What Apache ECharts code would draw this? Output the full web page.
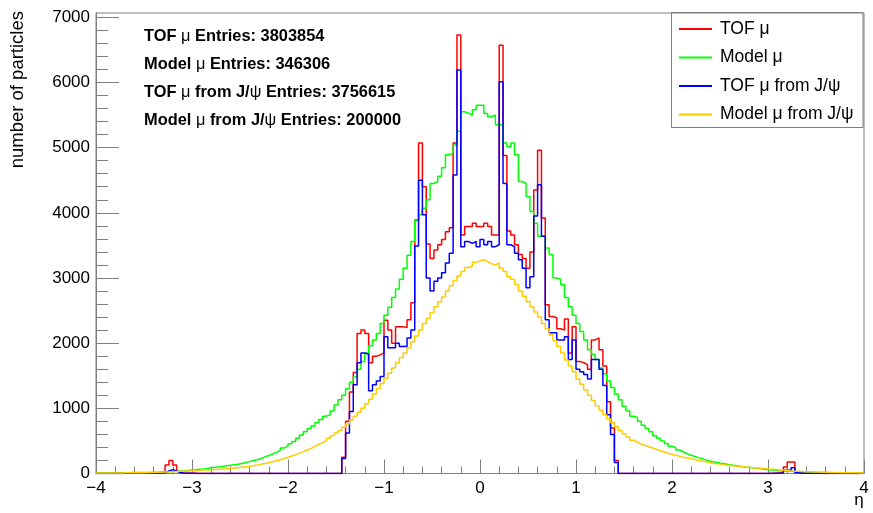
<!DOCTYPE html>
<html>
<head>
<meta charset="utf-8">
<script src="https://cdn.jsdelivr.net/npm/echarts@6/dist/echarts.min.js"></script>
<style>
  html, body { margin: 0; padding: 0; background: #fff; }
  #chart { width: 873px; height: 513px; }
</style>
</head>
<body>
<div id="chart"></div>
<script>
// binning of the eta histograms
const etaMin = -4
const etaMax = 4
const binWidth = 0.04

const xTicks = [-4, -3, -2, -1, 0, 1, 2, 3, 4]
const yTicks = [0, 1000, 2000, 3000, 4000, 5000, 6000, 7000]
const yMax = 7066

const seriesNames = ['TOF \u03bc', 'Model \u03bc', 'TOF \u03bc from J/\u03c8', 'Model \u03bc from J/\u03c8']
const seriesColors = ['#ff0000', '#00ff00', '#0000ff', '#ffcc00']
const entries = [3803854, 346306, 3756615, 200000]

// bin contents, 200 bins each
const tofMu = [
  0,0,0,0,0,2,0,3,4,3,
  5,4,6,5,7,8,10,25,130,200,
  130,30,8,5,3,2,0,0,0,0,
  0,0,0,0,0,0,0,0,0,0,
  0,0,0,0,0,0,0,0,0,0,
  0,0,0,0,0,0,0,0,0,0,
  0,0,0,0,250,800,1250,1550,2150,2200,
  2150,1700,1800,1820,1850,2350,2200,2000,2250,2250,
  2240,2360,2620,3890,5070,4400,3520,3300,3430,3510,
  3590,3710,3770,5070,6730,3660,3790,3790,3840,3790,
  3790,3840,3790,3660,3660,6570,4880,3720,3660,3510,
  3360,3300,3150,3400,4350,4960,3920,2590,2410,2390,
  2220,2200,2370,1850,2250,1720,1700,1670,1600,2050,
  2080,1900,1650,1100,700,200,0,0,0,0,
  0,0,0,0,0,0,0,0,0,0,
  0,0,0,0,0,0,0,0,0,0,
  0,0,0,0,0,0,0,0,0,0,
  0,0,0,0,0,2,4,6,20,100,
  175,178,25,8,6,5,4,3,4,3,
  3,2,2,1,2,1,0,0,0,0
]

const modelMu = [
  8,10,9,11,10,12,11,13,12,14,
  15,14,17,16,19,20,22,24,26,30,
  33,38,42,48,55,58,64,70,78,88,
  95,100,108,118,126,135,142,155,168,182,
  198,212,230,255,275,300,325,355,390,420,
  455,490,540,590,640,690,730,780,830,880,
  900,960,1050,1130,1200,1300,1400,1480,1600,1720,
  1850,1960,2050,2150,2300,2430,2550,2700,2830,2980,
  3150,3350,3560,3880,3970,4070,4200,4450,4480,4560,
  4690,4890,4920,5040,5250,5550,5530,5500,5580,5650,
  5650,5525,5475,5500,5350,5350,5070,5015,5070,4890,
  4480,4450,4250,4020,3840,3640,3640,3460,3360,3000,
  2980,2900,2700,2560,2430,2300,2180,2050,1900,1830,
  1750,1620,1530,1420,1320,1220,1130,1030,960,880,
  860,800,740,690,640,580,540,500,460,420,
  395,360,330,300,280,260,240,225,205,190,
  175,165,155,145,135,125,118,108,100,95,
  88,80,72,66,58,52,48,44,40,37,
  34,30,27,25,22,20,18,17,15,14,
  12,11,10,9,9,8,7,7,6,5
]

const tofJpsi = [
  0,0,0,0,0,1,0,2,2,2,
  3,2,4,3,4,5,6,10,40,60,
  40,10,4,3,2,1,0,0,0,0,
  0,0,0,0,0,0,0,0,0,0,
  0,0,0,0,0,0,0,0,0,0,
  0,0,0,0,0,0,0,0,0,0,
  0,0,0,0,230,620,950,1360,1700,1850,
  1830,1270,1360,1420,1490,2100,1930,1930,2000,1950,
  1950,2080,2200,3490,4500,3970,3000,2800,2950,3000,
  3080,3230,3380,4580,6190,3480,3560,3530,3560,3480,
  3590,3510,3560,3480,3510,6010,4450,3510,3480,3380,
  3280,3150,2850,3020,3950,4430,3640,2360,2160,2160,
  2050,2050,2100,1750,2050,1600,1560,1520,1450,1750,
  1750,1600,1350,900,600,170,0,0,0,0,
  0,0,0,0,0,0,0,0,0,0,
  0,0,0,0,0,0,0,0,0,0,
  0,0,0,0,0,0,0,0,0,0,
  0,0,0,0,0,1,2,3,8,50,
  50,87,10,4,3,2,2,2,2,1,
  1,1,1,1,1,0,0,0,0,0
]

const modelJpsi = [
  6,7,6,8,7,9,8,10,11,10,
  12,13,12,15,16,18,20,22,24,27,
  30,33,36,40,43,46,48,52,55,58,
  62,66,70,74,78,83,90,96,104,112,
  120,130,142,153,165,180,195,212,230,250,
  268,290,312,336,360,385,415,445,475,505,
  540,580,620,660,710,760,820,880,940,1000,
  1070,1140,1220,1300,1380,1460,1540,1620,1700,1780,
  1850,1930,2020,2110,2200,2300,2380,2470,2560,2630,
  2710,2800,2880,2960,3030,3100,3160,3180,3240,3260,
  3280,3250,3220,3200,3230,3150,3100,3020,2980,2900,
  2800,2720,2640,2560,2480,2400,2300,2220,2130,2040,
  1950,1850,1740,1650,1560,1450,1370,1280,1200,1120,
  1040,970,900,840,780,720,660,610,560,510,
  480,450,430,410,390,370,350,330,310,295,
  280,265,250,238,225,212,200,190,178,168,
  155,148,140,132,125,118,112,106,100,95,
  90,85,80,75,70,65,60,55,50,45,
  40,36,33,30,28,26,24,22,20,18,
  17,15,14,13,12,11,10,10,9,8
]

const histograms = [tofMu, modelMu, tofJpsi, modelJpsi]

// minor y ticks every 200
const yMinor = []
for (let v = 200; v < yMax; v += 200) {
  if (v % 1000 !== 0) yMinor.push(v)
}

function stepData(vals) {
  let pts = []
  for (let i = 0; i < vals.length; i++) {
    pts.push([+(etaMin + i * binWidth).toFixed(2), vals[i]])
  }
  pts.push([etaMax, vals[vals.length - 1]])
  return pts
}

const font = 'Liberation Sans, Arial, Helvetica, sans-serif'
const frameColor = '#808080'

let mycharts = echarts.init(document.getElementById('chart'), null, { renderer: 'canvas' })

let series = histograms.map((h, i) => ({
  name: seriesNames[i],
  type: 'line',
  step: 'end',
  data: stepData(h),
  showSymbol: false,
  symbol: 'none',
  lineStyle: { width: 1.5, color: seriesColors[i] },
  itemStyle: { color: seriesColors[i] },
  z: 2 + i
}))

// stats-like text lines, with the greek letters in normal weight
let statTexts = seriesNames.map((n, i) => {
  let rich = n.replace(/([\u03bc\u03c8])/g, '{g|$1}')
  return {
    type: 'text',
    x: 144,
    y: 36 + i * 28,
    style: {
      text: rich + ' Entries: ' + entries[i],
      font: 'bold 16.4px ' + font,
      fill: '#000',
      textVerticalAlign: 'middle',
      rich: { g: { fontWeight: 'normal', fontSize: 16.4, fontFamily: font } }
    }
  }
})

let option = {
  animation: false,
  backgroundColor: '#fff',
  grid: {
    left: 96, right: 9, top: 13, bottom: 39.5,
    show: true, borderColor: frameColor, borderWidth: 1, backgroundColor: 'transparent'
  },
  xAxis: {
    type: 'value',
    min: etaMin,
    max: etaMax,
    interval: 1,
    axisLine: { show: true, onZero: false, lineStyle: { color: frameColor, width: 1 } },
    axisTick: { show: true, inside: true, length: 14, lineStyle: { color: frameColor } },
    minorTick: { show: true, splitNumber: 5, length: 7, lineStyle: { color: frameColor } },
    splitLine: { show: false },
    axisLabel: {
      color: '#000', fontSize: 17, fontFamily: font, margin: 6,
      formatter: v => String(v).replace('-', '\u2212')
    }
  },
  yAxis: [
    {
      type: 'value',
      min: 0,
      max: yMax,
      position: 'left',
      axisLine: { show: true, onZero: false, lineStyle: { color: frameColor, width: 1 } },
      axisTick: { show: true, inside: true, length: 23, customValues: yTicks, lineStyle: { color: frameColor } },
      axisLabel: {
        color: '#000', fontSize: 17, fontFamily: font, margin: 6, customValues: yTicks,
        formatter: v => String(v)
      },
      splitLine: { show: false }
    },
    {
      type: 'value',
      min: 0,
      max: yMax,
      position: 'left',
      axisLine: { show: false, onZero: false },
      axisTick: { show: true, inside: true, length: 12, customValues: yMinor, lineStyle: { color: frameColor } },
      axisLabel: { show: false },
      splitLine: { show: false }
    }
  ],
  legend: {
    orient: 'vertical',
    left: 672,
    top: 13,
    padding: [6, 5, 3, 7],
    itemGap: 8.5,
    itemWidth: 33,
    itemHeight: 2,
    icon: 'rect',
    data: seriesNames,
    textStyle: { color: '#000', fontSize: 17.5, fontFamily: font, lineHeight: 20, padding: [0, 0, 0, 3] }
  },
  graphic: [
    {
      type: 'rect',
      shape: { x: 671.5, y: 12.5, width: 191.5, height: 115 },
      style: { fill: 'none', stroke: frameColor, lineWidth: 1 },
      z: 10
    },
    {
      type: 'text',
      x: 18,
      y: 11,
      rotation: Math.PI / 2,
      style: {
        text: 'number of particles', font: '18.5px ' + font, fill: '#000',
        textAlign: 'right', textVerticalAlign: 'middle'
      }
    },
    {
      type: 'text',
      x: 859,
      y: 500,
      style: { text: '\u03b7', font: '17px ' + font, fill: '#000', textAlign: 'center', textVerticalAlign: 'middle' }
    }
  ].concat(statTexts),
  series: series
}

mycharts.setOption(option)
</script>
</body>
</html>
